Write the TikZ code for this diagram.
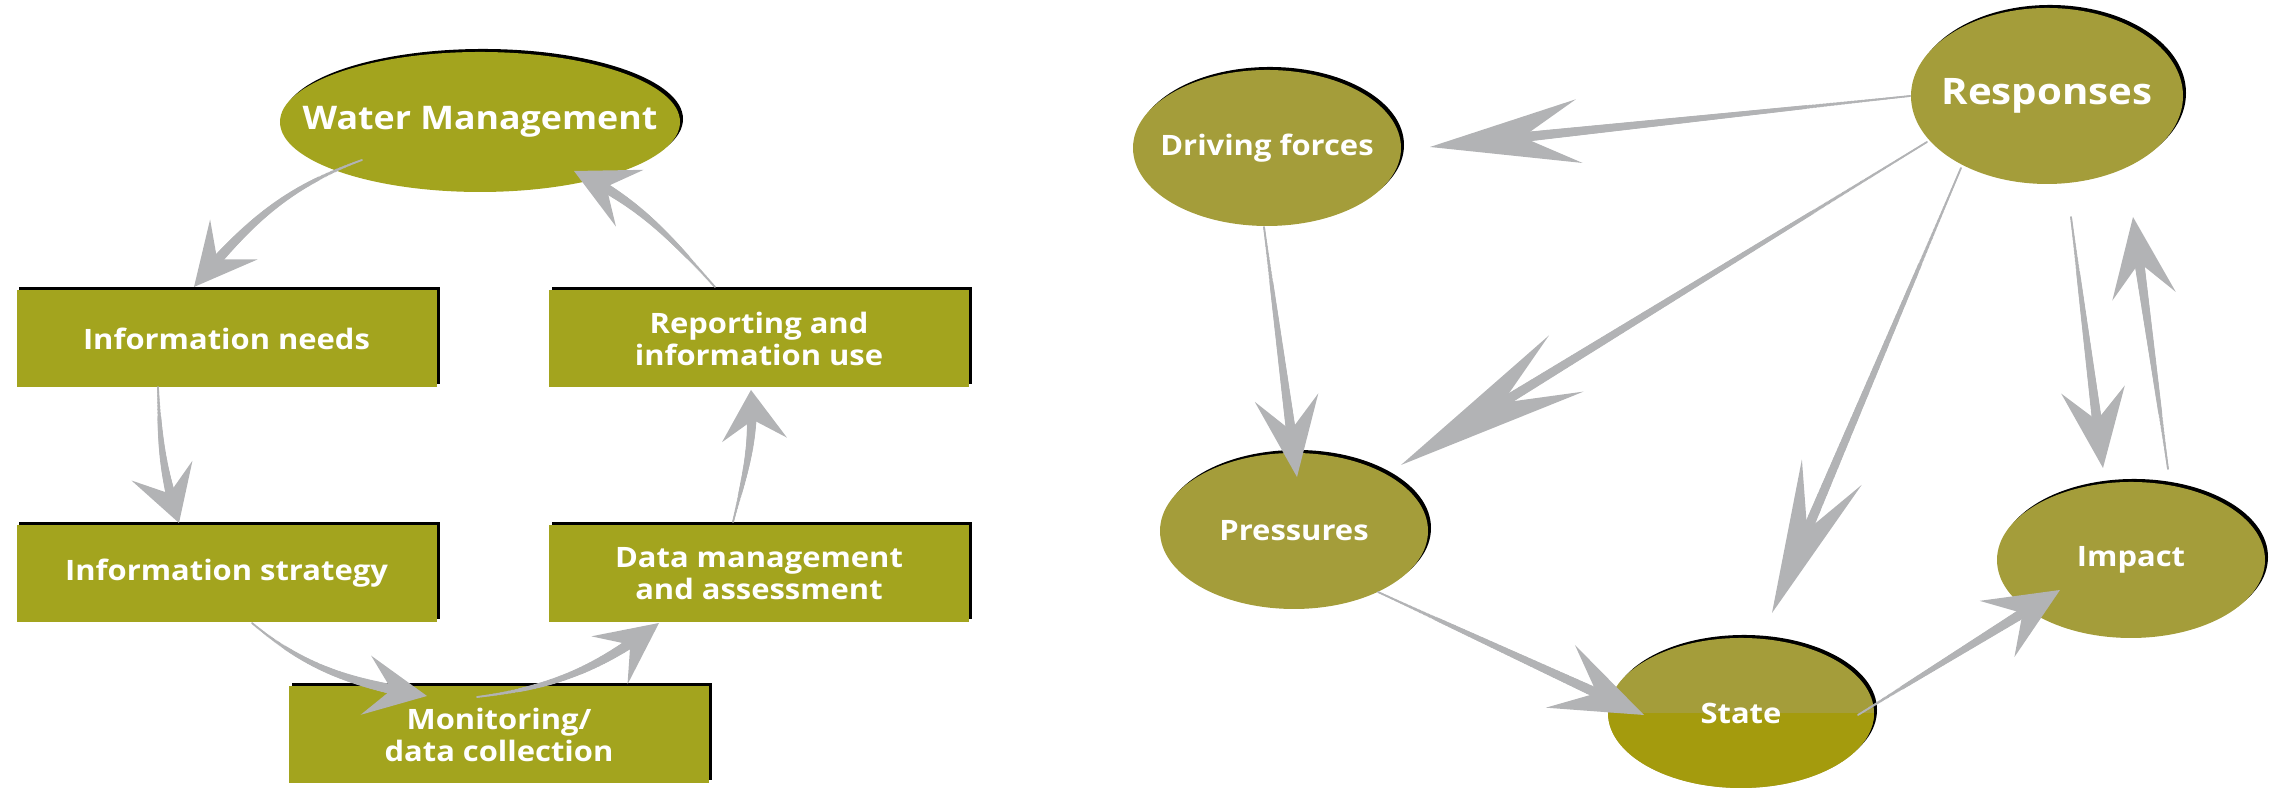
\documentclass[tikz,border=0pt]{standalone}
\usepackage{fontspec}
\setmainfont{Open Sans}[FakeStretch=1.1]
\usetikzlibrary{arrows.meta,shapes.geometric,shadows,decorations.markings,calc}

\definecolor{boxolive}{HTML}{A3A41E}
\definecolor{ballolive}{HTML}{A49D3A}
\definecolor{statelow}{HTML}{A49B0D}
\definecolor{arrowgray}{HTML}{B2B3B5}

\tikzset{
  blackshadow/.style={drop shadow={shadow xshift=0.03cm,shadow yshift=0.03cm,opacity=1,fill=black}},
  stepbox/.style={rectangle, fill=boxolive, text=white, align=center,
    font=\bfseries\fontsize{8}{9.1}\selectfont,
    minimum width=4.2cm, minimum height=0.97cm, inner sep=0pt, blackshadow},
  wmball/.style={ellipse, fill=boxolive, text=white, inner sep=0pt, inner xsep=-0.8cm,
    font=\bfseries\fontsize{9.25}{11}\selectfont,
    minimum width=4cm, minimum height=1.4cm, blackshadow},
  dpsir/.style={ellipse, fill=ballolive, text=white, inner sep=0pt, inner xsep=-0.8cm,
    font=\bfseries\fontsize{8}{10}\selectfont,
    minimum width=2.68cm, minimum height=1.56cm, blackshadow},
  flow/.style n args={4}{draw=arrowgray, line width=0.5pt,
    -{Stealth[length=#1,width=#2,inset=#3]},
    decoration={markings, mark=between positions 0 and -#4 step 0.4pt with
      {\pgfmathsetmacro\taperr{0.25+1.45*\pgfkeysvalueof{/pgf/decoration/mark info/distance from start}/\pgfdecoratedpathlength}%
       \fill[arrowgray] (0,0) circle[radius=\taperr pt];}},
    postaction={decorate}},
}

\begin{document}
\begin{tikzpicture}
		\useasboundingbox (0,0) rectangle (22.79,7.89);
		% information cycle
		\node[wmball] (water) at (4.80,6.67) {Water Management};
		\node[stepbox] (needs) at (2.265,4.505) {Information needs};
		\node[stepbox] (strategy) at (2.265,2.155) {Information strategy};
		\node[stepbox, text depth=-0.16cm] (monitor) at (4.99,0.545) {Monitoring/\\data collection};
		\node[stepbox] (datamgmt) at (7.59,2.155) {Data management\\and assessment};
		\node[stepbox] (reporting) at (7.59,4.505) {Reporting and\\information use};
		\draw[flow={0.62cm}{0.62cm}{0.26cm}{0.33cm}] ($(water)+(-1.18,-0.38)$) to[out=200,in=50] ($(needs)+(-0.325,0.515)$);
		\draw[flow={0.55cm}{0.64cm}{0.24cm}{0.28cm}] ($(needs)+(-0.685,-0.485)$) to[out=-88,in=108] ($(strategy)+(-0.475,0.505)$);
		\draw[flow={0.62cm}{0.60cm}{0.26cm}{0.33cm}] ($(strategy)+(0.255,-0.495)$) to[out=-40,in=170] ($(monitor)+(-0.72,0.385)$);
		\draw[flow={0.62cm}{0.60cm}{0.26cm}{0.33cm}] ($(monitor)+(-0.22,0.375)$) to[out=7,in=217] ($(datamgmt)+(-1.0,-0.495)$);
		\draw[flow={0.50cm}{0.65cm}{0.20cm}{0.27cm}] ($(datamgmt)+(-0.26,0.515)$) to[out=76,in=-86] ($(reporting)+(-0.08,-0.515)$);
		\draw[flow={0.62cm}{0.63cm}{0.26cm}{0.33cm}] ($(reporting)+(-0.44,0.515)$) to[out=132,in=-26] ($(water)+(0.94,-0.49)$);

		% DPSIR scheme
		\node[dpsir] (driving) at (12.67,6.41) {Driving forces};
		\node[dpsir, minimum width=2.72cm, minimum height=1.76cm, font=\bfseries\fontsize{10.4}{12}\selectfont] (responses) at (20.47,6.93) {Responses};
		\node[dpsir] (pressures) at (12.94,2.58) {Pressures};
		\node[dpsir, minimum width=2.66cm, minimum height=1.5cm, path picture={\fill[statelow] (path picture bounding box.west) rectangle (path picture bounding box.south east);}] (state) at (17.41,0.76) {State};
		\node[dpsir] (impact) at (21.31,2.29) {Impact};
		\draw[flow={1.5cm}{0.64cm}{0.57cm}{0.9cm}] (responses.west) -- ($(driving)+(1.63,0.01)$);
		\draw[flow={0.8cm}{0.64cm}{0.33cm}{0.44cm}] ($(driving)+(-0.03,-0.79)$) -- ($(pressures)+(0.03,0.54)$);
		\draw[flow={1.94cm}{0.66cm}{0.75cm}{1.16cm}] ($(responses)+(-1.20,-0.46)$) -- ($(pressures)+(1.07,0.66)$);
		\draw[flow={1.53cm}{0.65cm}{0.63cm}{0.87cm}] ($(responses)+(-0.86,-0.72)$) -- ($(state)+(0.31,1.00)$);
		\draw[flow={0.79cm}{0.64cm}{0.31cm}{0.45cm}] ($(responses)+(0.24,-1.21)$) -- ($(impact)+(-0.28,0.92)$);
		\draw[flow={0.8cm}{0.64cm}{0.34cm}{0.43cm}] ($(impact)+(0.37,0.91)$) -- ($(responses)+(0.86,-1.21)$);
		\draw[flow={0.92cm}{0.69cm}{0.40cm}{0.49cm}] ($(pressures)+(0.84,-0.61)$) -- ($(state)+(-0.97,-0.02)$);
		\draw[flow={0.74cm}{0.66cm}{0.30cm}{0.41cm}] ($(state)+(1.17,-0.02)$) -- ($(impact)+(-0.71,-0.30)$);
\end{tikzpicture}
\end{document}
